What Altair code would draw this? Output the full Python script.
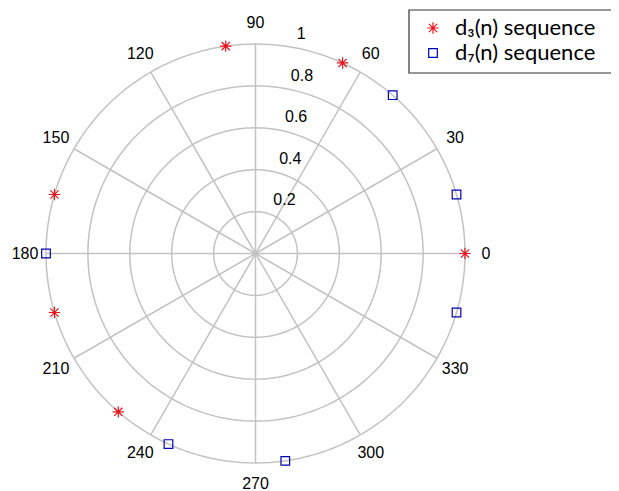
import altair as alt
import pandas as pd
import numpy as np

# ---- data ----
series_names = ["d\u2083(n) sequence", "d\u2087(n) sequence"]
d3_theta = [0, 65.45, 98.18, 163.64, 196.36, 229.09]
d3_r = [1, 1, 1, 1, 1, 1]
d7_theta = [16.36, 49.09, 180, 245.45, 278.18, 343.64]
d7_r = [1, 1, 1, 1, 1, 1]
ring_r = [0.2, 0.4, 0.6, 0.8, 1.0]
ring_labels = ["0.2", "0.4", "0.6", "0.8", "1"]
spoke_theta = [0, 30, 60, 90, 120, 150, 180, 210, 240, 270, 300, 330]
spoke_labels = ["0", "30", "60", "90", "120", "150", "180", "210", "240", "270", "300", "330"]

W = 419
H = 419
GRID = "#c2c2c2"
RED = "#e8141c"
BLUE = "#0000b4"
ASTER = "M-1,0L1,0M0,-1L0,1M-0.72,-0.72L0.72,0.72M-0.72,0.72L0.72,-0.72"
xs = alt.Scale(domain=[-1, 1], nice=False, zero=False)
ys = alt.Scale(domain=[-1, 1], nice=False, zero=False)

# ring grid geometry
ring_rows = []
for r in ring_r:
    for a in np.arange(0, 361, 2):
        ring_rows.append({"r": r, "a": float(a)})
rings_df = pd.DataFrame(ring_rows)

one = pd.DataFrame({"k": [0]})

# legend (frame, symbols, labels)
frame = alt.Chart(one).mark_rect(
    fill="white", stroke="#333333", strokeWidth=1.2
).encode(x=alt.value(363), x2=alt.value(580), y=alt.value(-34), y2=alt.value(29))

leg_sym1 = alt.Chart(one).mark_point(shape=ASTER, filled=False, color=RED, size=130,
                                     strokeWidth=1.2, opacity=1).encode(
    x=alt.value(387), y=alt.value(-16))
leg_sym2 = alt.Chart(one).mark_point(shape="square", filled=False, color=BLUE, size=75,
                                     strokeWidth=1.2, opacity=1).encode(
    x=alt.value(387), y=alt.value(9))
leg_txt1 = alt.Chart(one).mark_text(text=series_names[0], font="Lato", fontSize=22,
                                    align="left", baseline="middle", color="black").encode(
    x=alt.value(409), y=alt.value(-16))
leg_txt2 = alt.Chart(one).mark_text(text=series_names[1], font="Lato", fontSize=22,
                                    align="left", baseline="middle", color="black").encode(
    x=alt.value(409), y=alt.value(9))

rings = alt.Chart(rings_df).transform_calculate(
    x="datum.r*cos(datum.a*PI/180)", y="datum.r*sin(datum.a*PI/180)"
).mark_line(color=GRID, strokeWidth=1.5).encode(
    x=alt.X("x:Q", scale=xs, axis=None),
    y=alt.Y("y:Q", scale=ys, axis=None),
    detail="r:N",
    order="a:Q",
)

spokes_df = pd.DataFrame({"a": spoke_theta, "label": spoke_labels})
spokes = alt.Chart(spokes_df).transform_calculate(
    x0="0", y0="0",
    x1="cos(datum.a*PI/180)", y1="sin(datum.a*PI/180)"
).mark_rule(color=GRID, strokeWidth=1.5).encode(
    x=alt.X("x0:Q", scale=xs, axis=None),
    y=alt.Y("y0:Q", scale=ys, axis=None),
    x2="x1:Q",
    y2="y1:Q",
)

angle_text = alt.Chart(spokes_df).transform_calculate(
    x="1.1*cos(datum.a*PI/180)", y="1.1*sin(datum.a*PI/180)"
).mark_text(font="Liberation Sans", fontSize=16, color="black",
            align="center", baseline="middle").encode(
    x=alt.X("x:Q", scale=xs, axis=None),
    y=alt.Y("y:Q", scale=ys, axis=None),
    text="label:N",
)

rlab_df = pd.DataFrame({"r": ring_r, "label": ring_labels})
r_text = alt.Chart(rlab_df).transform_calculate(
    x="datum.r*cos(82*PI/180)", y="datum.r*sin(82*PI/180)"
).mark_text(font="Liberation Sans", fontSize=16, color="black",
            align="left", baseline="middle", dx=12, dy=-12).encode(
    x=alt.X("x:Q", scale=xs, axis=None),
    y=alt.Y("y:Q", scale=ys, axis=None),
    text="label:N",
)

pts_df = pd.concat([
    pd.DataFrame({"theta": d3_theta, "r": d3_r, "series": series_names[0]}),
    pd.DataFrame({"theta": d7_theta, "r": d7_r, "series": series_names[1]}),
])

points = alt.Chart(pts_df).transform_calculate(
    x="datum.r*cos(datum.theta*PI/180)", y="datum.r*sin(datum.theta*PI/180)"
).mark_point(filled=False, strokeWidth=1.2, opacity=1).encode(
    x=alt.X("x:Q", scale=xs, axis=None),
    y=alt.Y("y:Q", scale=ys, axis=None),
    color=alt.Color("series:N", scale=alt.Scale(domain=series_names, range=[RED, BLUE]), legend=None),
    shape=alt.Shape("series:N", scale=alt.Scale(domain=series_names, range=[ASTER, "square"]), legend=None),
    size=alt.Size("series:N", scale=alt.Scale(domain=series_names, range=[130, 75]), legend=None),
)

chart = alt.layer(rings, spokes, angle_text, r_text, points,
                  frame, leg_sym1, leg_sym2, leg_txt1, leg_txt2).properties(
    width=W, height=H,
    padding={"left": 38, "top": 36, "right": 146, "bottom": 30},
    autosize=alt.AutoSizeParams(type="none"),
).configure_view(stroke=None)

chart.save("out.html", embed_options={"renderer": "svg", "actions": False})
